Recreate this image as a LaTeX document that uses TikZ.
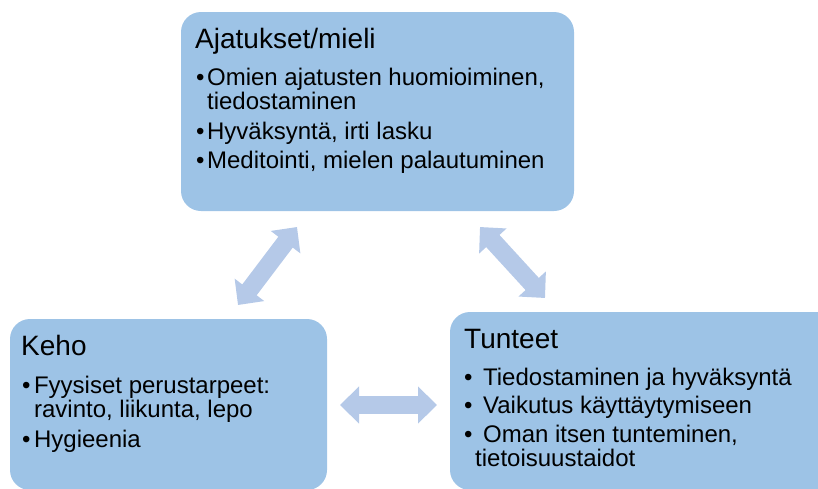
\documentclass[tikz,border=0pt]{standalone}
\usepackage{fontspec}
\setmainfont{Liberation Sans}
\usetikzlibrary{arrows.meta}

\definecolor{boxblue}{RGB}{157,195,230}
\definecolor{arrowblue}{RGB}{181,201,232}

\begin{document}
\begin{tikzpicture}[x=1pt, y=-1pt]
\tikzstyle{box} = [rectangle, rounded corners=20pt, draw=none, fill=boxblue, inner sep=0pt]
\tikzstyle{title} = [anchor=base west, inner sep=0pt, font=\fontsize{28}{28}\selectfont]
\tikzstyle{list} = [anchor=base west, inner sep=0pt, font=\fontsize{24}{24}\selectfont]
\tikzstyle{arrow} = [draw=arrowblue, line width=18pt, {Triangle[length=19pt,width=36pt]}-{Triangle[length=19pt,width=36pt]}]

\useasboundingbox (0,0) rectangle (818,488);
\clip (0,0) rectangle (818,488);

% boxes
\node (mieli) [box, minimum width=393pt, minimum height=199pt] at (377.5,111.5) {};
\node (keho) [box, minimum width=317pt, minimum height=171pt] at (168.5,404.5) {};
\node (tunteet) [box, minimum width=390pt, minimum height=178pt] at (645,401) {};

% texts
\node (mieliTitle) [title] at (195,48) {Ajatukset/mieli};
\node (mieliList) [list] at (196,85) {\begin{tabular}[t]{@{}l@{\hspace{2.5pt}}l@{}}
\textbullet & Omien ajatusten huomioiminen,\\
 & tiedostaminen\\[5pt]
\textbullet & Hyväksyntä, irti lasku\\[5pt]
\textbullet & Meditointi, mielen palautuminen
\end{tabular}};

\node (kehoTitle) [title] at (21,355) {Keho};
\node (kehoList) [list] at (22,393) {\begin{tabular}[t]{@{}l@{\hspace{3.5pt}}l@{}}
\textbullet & Fyysiset perustarpeet:\\
 & ravinto, liikunta, lepo\\[5pt]
\textbullet & Hygieenia
\end{tabular}};

\node (tunteetTitle) [title] at (464,348) {Tunteet};
\node (tunteetList) [list] at (464,385) {\begin{tabular}[t]{@{}l@{}}
\textbullet\hspace{10.5pt}Tiedostaminen ja hyväksyntä\\[4pt]
\textbullet\hspace{10.5pt}Vaikutus käyttäytymiseen\\[4pt]
\textbullet\hspace{10.5pt}Oman itsen tunteminen,\\
\hspace{11pt}tietoisuustaidot
\end{tabular}};

% arrow ends
\coordinate (kmA) at (238,305);
\coordinate (kmB) at (297,227);
\coordinate (mtA) at (480,227);
\coordinate (mtB) at (545,298);
\coordinate (ktA) at (340,405);
\coordinate (ktB) at (437,405);

\draw [arrow] (kmA) -- (kmB);
\draw [arrow] (mtA) -- (mtB);
\draw [arrow] (ktA) -- (ktB);

\end{tikzpicture}
\end{document}
